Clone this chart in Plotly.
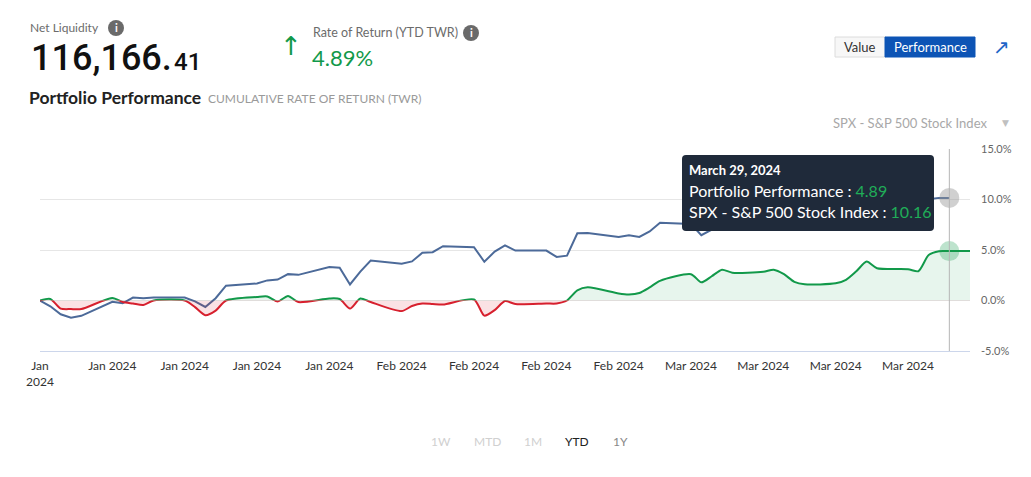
import plotly.graph_objects as go

# portfolio cumulative return (%), weekdays + month end
port_dates = [
    "2024-01-01", "2024-01-02", "2024-01-03", "2024-01-04", "2024-01-05",
    "2024-01-08", "2024-01-09", "2024-01-10", "2024-01-11", "2024-01-12",
    "2024-01-15", "2024-01-16", "2024-01-17", "2024-01-18", "2024-01-19",
    "2024-01-22", "2024-01-23", "2024-01-24", "2024-01-25", "2024-01-26",
    "2024-01-29", "2024-01-30", "2024-01-31", "2024-02-01", "2024-02-02",
    "2024-02-05", "2024-02-06", "2024-02-07", "2024-02-08", "2024-02-09",
    "2024-02-12", "2024-02-13", "2024-02-14", "2024-02-15", "2024-02-16",
    "2024-02-19", "2024-02-20", "2024-02-21", "2024-02-22", "2024-02-23",
    "2024-02-26", "2024-02-27", "2024-02-28", "2024-02-29", "2024-03-01",
    "2024-03-04", "2024-03-05", "2024-03-06", "2024-03-07", "2024-03-08",
    "2024-03-11", "2024-03-12", "2024-03-13", "2024-03-14", "2024-03-15",
    "2024-03-18", "2024-03-19", "2024-03-20", "2024-03-21", "2024-03-22",
    "2024-03-25", "2024-03-26", "2024-03-27", "2024-03-28", "2024-03-29",
    "2024-03-31",
]
port_ret = [
    0.0, 0.15, -0.8, -0.85, -0.85,
    0.25, -0.15, -0.3, -0.45, 0.0,
    0.0, -0.65, -1.45, -1.0, 0.0,
    0.35, 0.4, -0.1, 0.45, -0.15,
    0.2, 0.15, -0.8, 0.2, -0.15,
    -1.05, -0.55, -0.3, -0.35, -0.4,
    0.1, -1.5, -0.95, -0.05, -0.35,
    -0.3, -0.3, 0.0, 1.0, 1.3,
    0.7, 0.6, 0.75, 1.3, 1.95,
    2.6, 1.8, 2.4, 3.05, 2.75,
    2.85, 3.05, 2.6, 1.85, 1.6,
    1.7, 2.05, 2.9, 3.85, 3.2,
    3.1, 2.9, 4.5, 4.88, 4.89,
    4.89,
]

# SPX cumulative return (%), weekdays
spx_dates = port_dates[:-1]
spx_ret = [
    0.0, -0.57, -1.36, -1.70, -1.52,
    -0.13, -0.28, 0.29, 0.22, 0.29,
    0.29, -0.08, -0.64, 0.23, 1.47,
    1.69, 1.99, 2.07, 2.61, 2.54,
    3.31, 3.25, 1.59, 2.86, 3.96,
    3.63, 3.87, 4.72, 4.78, 5.38,
    5.28, 3.84, 4.84, 5.45, 4.94,
    4.94, 4.31, 4.44, 6.65, 6.69,
    6.28, 6.46, 6.29, 6.84, 7.70,
    7.57, 6.47, 7.02, 8.12, 7.42,
    7.30, 8.50, 8.29, 7.98, 7.28,
    7.96, 8.57, 9.53, 9.89, 9.73,
    9.40, 9.09, 10.03, 10.16, 10.16,
]

tick_dates = ["2024-01-01", "2024-01-08", "2024-01-15", "2024-01-22", "2024-01-29",
              "2024-02-05", "2024-02-12", "2024-02-19", "2024-02-26",
              "2024-03-04", "2024-03-11", "2024-03-18", "2024-03-25"]
tick_text = ["Jan<br>2024", "Jan 2024", "Jan 2024", "Jan 2024", "Jan 2024",
             "Feb 2024", "Feb 2024", "Feb 2024", "Feb 2024",
             "Mar 2024", "Mar 2024", "Mar 2024", "Mar 2024"]
y_ticks = [-5, 0, 5, 10, 15]

hover_date = "2024-03-29"
range_buttons = ["1W", "MTD", "1M", "YTD", "1Y"]

GREEN = "#12994a"
RED = "#d7202e"
BLUE = "#4c6a99"
FONT = "Lato"

# plot area in pixels, used to place the header texts
L, R, T, B = 40, 970, 149, 351


def px(x):
    return (x - L) / (R - L)


def py(y):
    return (B - y) / (B - T)


def rounded_box(x0, y0, x1, y1, r=4):
    # svg path in paper units, corners rounded by r pixels
    a, b, c, d = px(x0), py(y1), px(x1), py(y0)
    rx, ry = r / (R - L), r / (B - T)
    return (f"M{a + rx},{b} L{c - rx},{b} Q{c},{b} {c},{b + ry} L{c},{d - ry} Q{c},{d} {c - rx},{d} "
            f"L{a + rx},{d} Q{a},{d} {a},{d - ry} L{a},{b + ry} Q{a},{b} {a + rx},{b} Z")


fig = go.Figure()

fig.add_trace(go.Scatter(x=spx_dates, y=spx_ret, mode="lines",
                         line=dict(color=BLUE, width=2), hoverinfo="skip"))

# hover state halos
hi_p = port_dates.index(hover_date)
hi_s = spx_dates.index(hover_date)
fig.add_trace(go.Scatter(x=[spx_dates[hi_s]], y=[spx_ret[hi_s]], mode="markers", cliponaxis=False,
                         marker=dict(size=20, color="rgba(150,150,150,0.45)"), hoverinfo="skip"))
fig.add_trace(go.Scatter(x=[port_dates[hi_p]], y=[port_ret[hi_p]], mode="markers", cliponaxis=False,
                         marker=dict(size=20, color="rgba(18,153,74,0.28)"), hoverinfo="skip"))

# portfolio line, green above zero / red below zero (each clipped to its half)
fig.add_trace(go.Scatter(x=port_dates, y=port_ret, mode="lines", yaxis="y2",
                         line=dict(color=GREEN, width=2, shape="spline", smoothing=0.7),
                         fill="tozeroy", fillcolor="rgba(18,153,74,0.10)", hoverinfo="skip"))
fig.add_trace(go.Scatter(x=port_dates, y=port_ret, mode="lines", yaxis="y3",
                         line=dict(color=RED, width=2, shape="spline", smoothing=0.7),
                         fill="tozeroy", fillcolor="rgba(215,32,46,0.13)", hoverinfo="skip"))

shapes = [
    dict(type="line", xref="x", yref="paper", x0=hover_date, x1=hover_date, y0=0, y1=1,
         line=dict(color="#b5b5b5", width=1)),
    # tooltip box
    dict(type="path", xref="paper", yref="paper", path=rounded_box(682, 155, 934, 231),
         fillcolor="#1f2a3a", line=dict(width=0), layer="above"),
    # info icons
    dict(type="circle", xref="paper", yref="paper", x0=px(108), x1=px(124), y0=py(36), y1=py(20),
         fillcolor="#6a6a6a", line=dict(width=0)),
    dict(type="circle", xref="paper", yref="paper", x0=px(463), x1=px(479), y0=py(41), y1=py(25),
         fillcolor="#6a6a6a", line=dict(width=0)),
    # Value / Performance toggle
    dict(type="rect", xref="paper", yref="paper", x0=px(835), x1=px(886), y0=py(57), y1=py(37),
         fillcolor="#f7f7f7", line=dict(color="#dcdcdc", width=1)),
    dict(type="rect", xref="paper", yref="paper", x0=px(885), x1=px(975), y0=py(57), y1=py(37),
         fillcolor="#0d54b5", line=dict(color="#0d54b5", width=1)),
]


def txt(x, y, s, size=12, color="#666", anchor="left", family=FONT, weight="normal"):
    return dict(x=px(x), y=py(y), xref="paper", yref="paper", text=s, showarrow=False,
                xanchor=anchor, yanchor="middle",
                font=dict(family=family, size=size, color=color, weight=weight))


annotations = [
    txt(28, 28, "Net Liquidity", 12, "#6b6b6b"),
    txt(116, 28, "<b>i</b>", 11, "#ffffff", "center"),
    txt(29, 58, "116,166.", 36, "#111111", family="Roboto", weight=500),
    txt(172, 62, "41", 24, "#111111", family="Roboto", weight=500),
    txt(291, 46, "↑", 26, GREEN, "center", "DejaVu Sans"),
    txt(311, 33, "Rate of Return (YTD TWR)", 12.5, "#6b6b6b"),
    txt(471, 33, "<b>i</b>", 11, "#ffffff", "center"),
    txt(310, 57, "%.2f%%" % port_ret[hi_p], 22, GREEN),
    txt(27, 97, "<b>Portfolio Performance</b>", 17.5, "#222222"),
    txt(206, 98, "CUMULATIVE RATE OF RETURN (TWR)", 12, "#9a9a9a"),
    txt(860, 47, "Value", 13, "#333333", "center"),
    txt(930, 47, "Performance", 13, "#ffffff", "center"),
    txt(1001, 47, "↗", 20, "#1f66c8", "center", "DejaVu Sans"),
    txt(831, 123, "SPX - S&P 500 Stock Index", 13, "#a8a8a8"),
    txt(1005, 123, "▼", 9, "#c0c0c0", "center", "DejaVu Sans"),
    # tooltip
    txt(687, 170, "<b>March 29, 2024</b>", 13, "#ffffff"),
    txt(687, 190, "Portfolio Performance : <span style='color:#1fae58'>%.2f</span>" % port_ret[hi_p],
        16, "#ffffff"),
    txt(687, 211, "SPX - S&P 500 Stock Index : <span style='color:#1fae58'>%.2f</span>" % spx_ret[hi_s],
        16, "#ffffff"),
]
for lab, xc in zip(range_buttons, [441, 487, 533, 577, 620]):
    col = "#222222" if lab == "YTD" else ("#888888" if lab == "1Y" else "#d0d0d0")
    annotations.append(txt(xc, 441, lab, 12, col, "center"))

fig.update_layout(
    width=1031, height=477,
    margin=dict(l=L, r=1031 - R, t=T, b=477 - B),
    paper_bgcolor="white", plot_bgcolor="rgba(0,0,0,0)",
    showlegend=False, hovermode=False,
    font=dict(family=FONT, size=12, color="#333"),
    xaxis=dict(type="date", range=["2024-01-01", "2024-03-31"], tickvals=tick_dates, ticktext=tick_text,
               showgrid=False, zeroline=False, showline=True, linecolor="#ccd6eb", linewidth=1,
               ticks="", tickfont=dict(size=12, color="#333333"), ticklabelstandoff=4),
    yaxis=dict(range=[-5, 15], side="right", tickvals=y_ticks,
               ticktext=["%.1f%%" % v for v in y_ticks],
               showgrid=True, gridcolor="#e6e6e6", zeroline=False, showline=False,
               tickfont=dict(size=11, color="#666666"), ticklabelstandoff=10),
    yaxis2=dict(domain=[0.25, 1], range=[0, 15], visible=False, anchor="x"),
    yaxis3=dict(domain=[0, 0.25], range=[-5, 0], visible=False, anchor="x"),
    shapes=shapes,
    annotations=annotations,
)

fig.write_html("out.html", config={"displayModeBar": False},
               post_script="document.body.style.margin='0';")
